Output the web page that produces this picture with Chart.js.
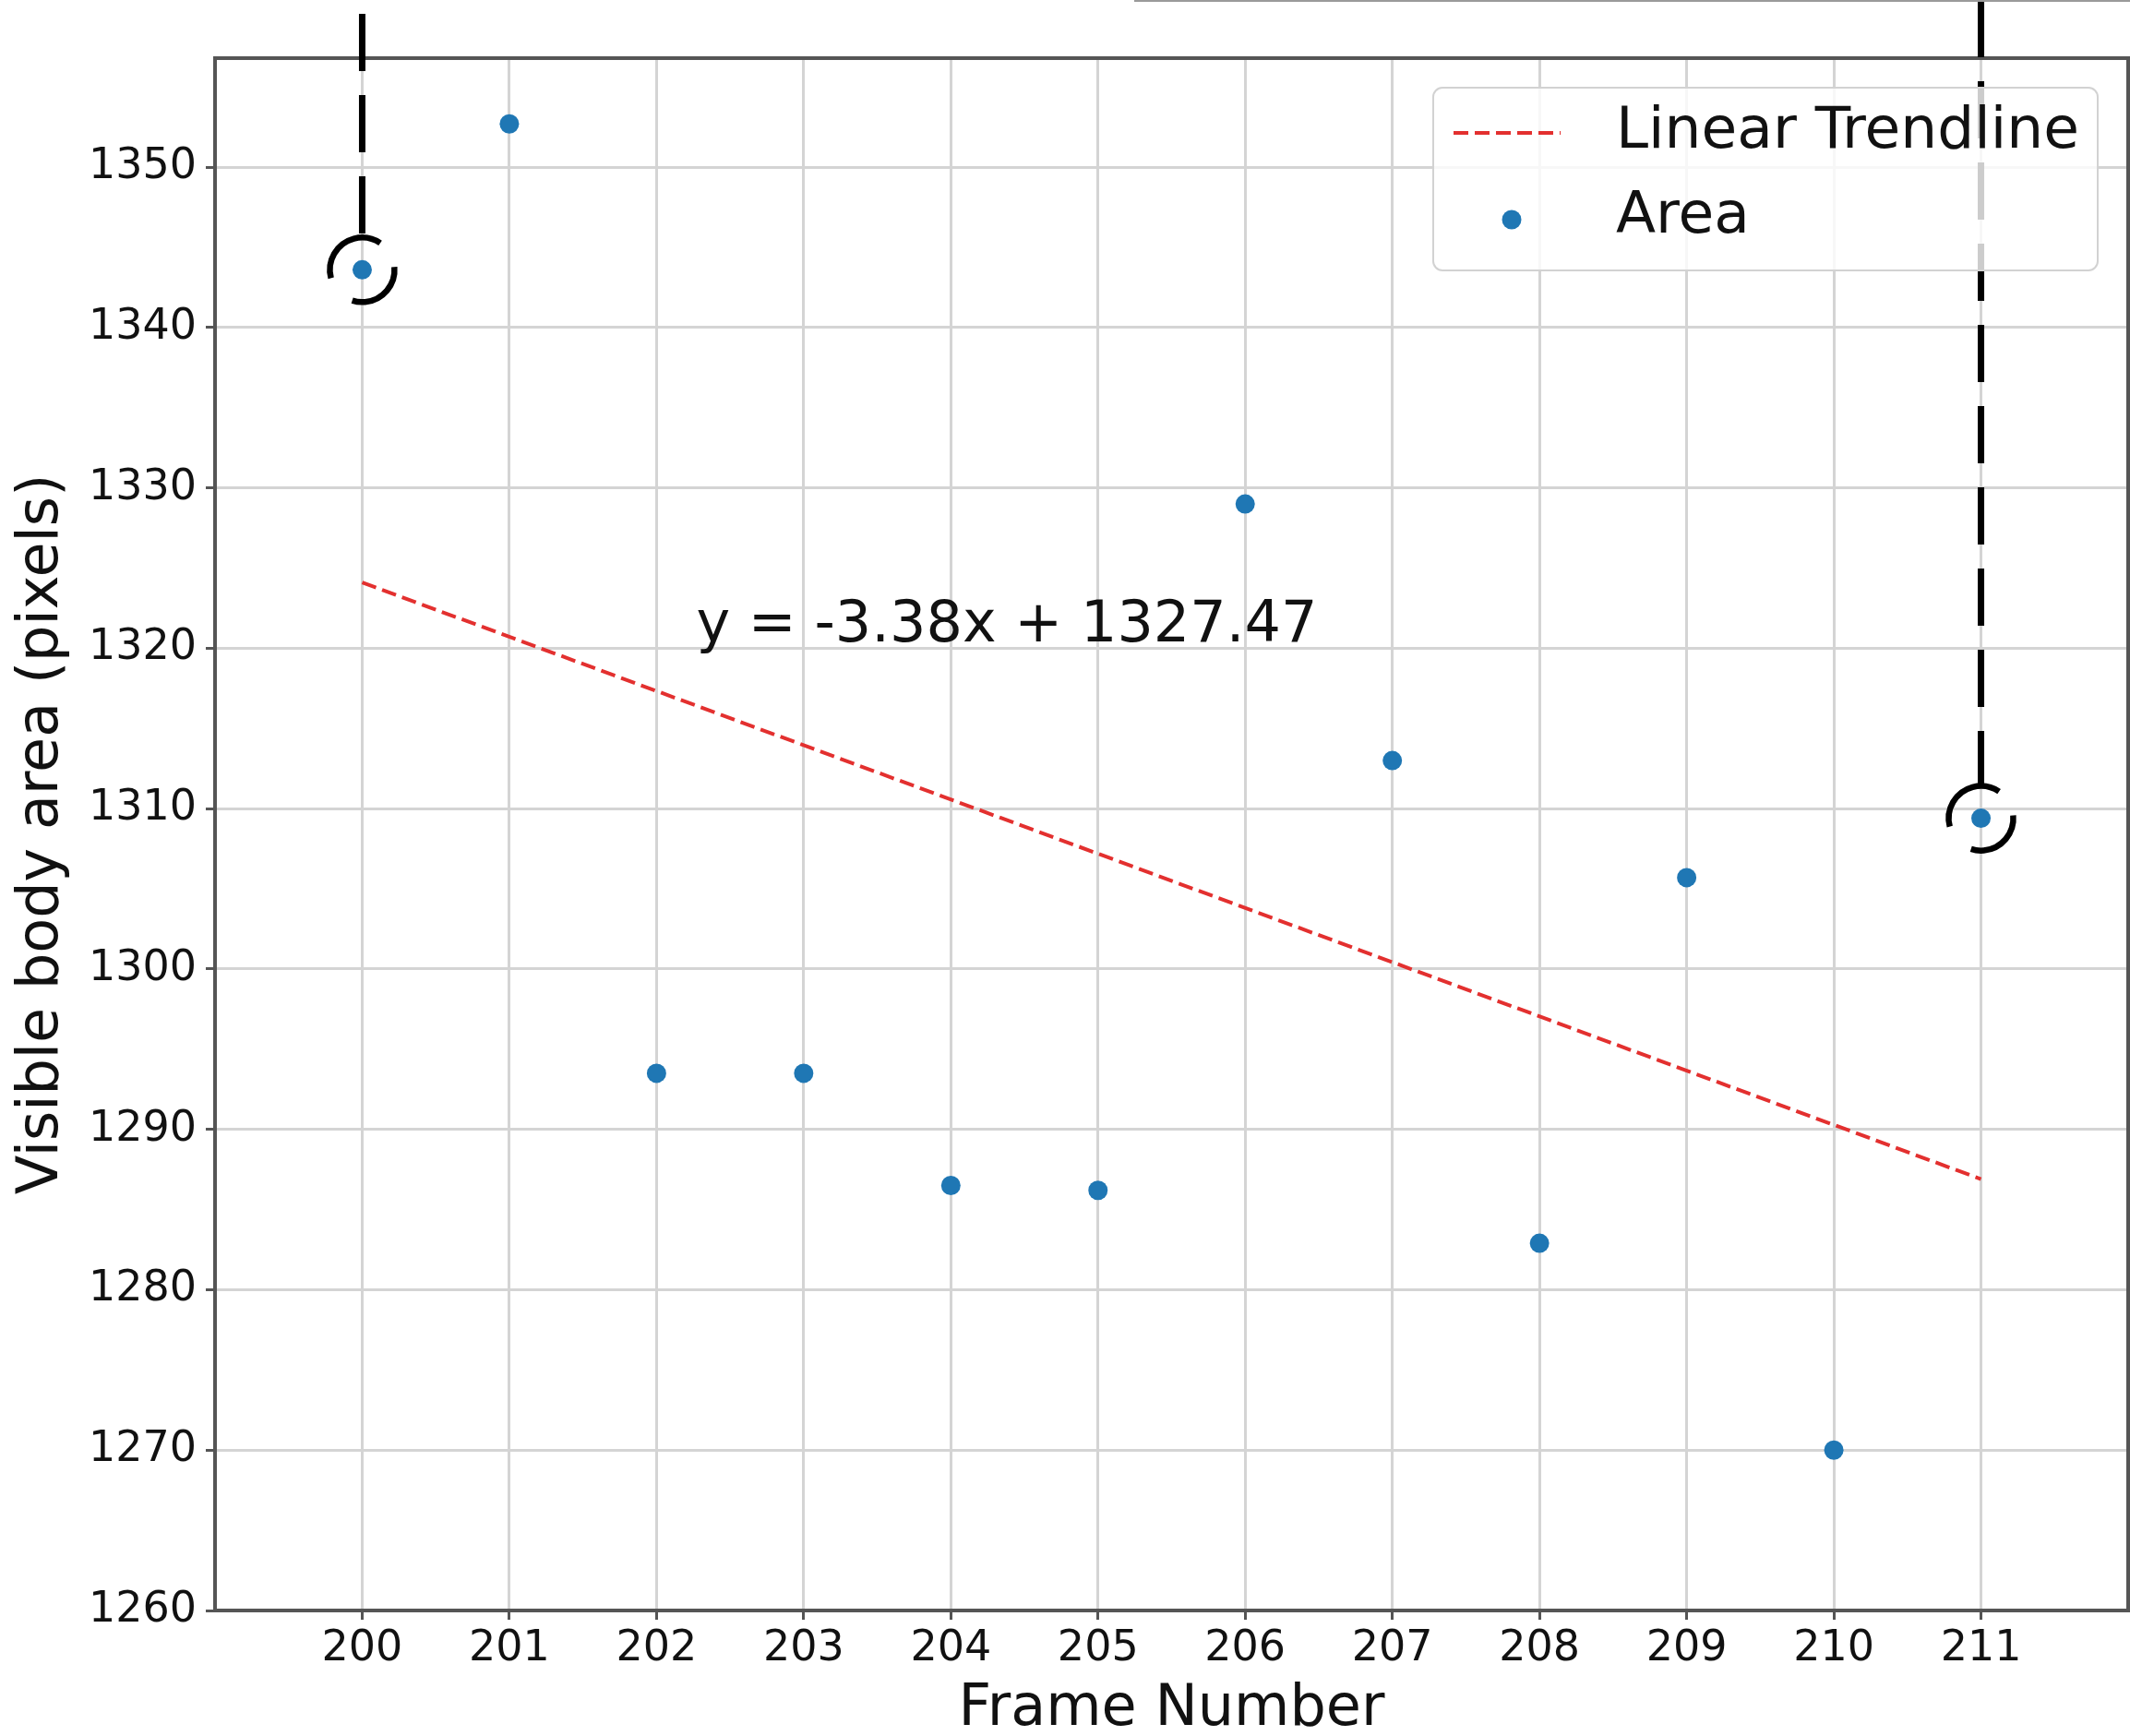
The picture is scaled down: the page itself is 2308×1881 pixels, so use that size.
<!DOCTYPE html>
<html><head><meta charset="utf-8">
<script src="https://cdn.jsdelivr.net/npm/chart.js@4.4.1/dist/chart.umd.min.js"></script>
<style>html,body{margin:0;padding:0;background:#fff;}canvas{display:block;}</style>
</head><body>
<canvas id="c" width="2308" height="1881"></canvas>
<script>
// ---- data ----
const frames = [200, 201, 202, 203, 204, 205, 206, 207, 208, 209, 210, 211];
const area = [1343.6, 1352.7, 1293.5, 1293.5, 1286.5, 1286.2, 1329.0, 1313.0, 1282.9, 1305.7, 1270.0, 1309.4];
const trendFrames = [200, 211];
const trendValues = [1324.1, 1286.9];
const xTickValues = [200, 201, 202, 203, 204, 205, 206, 207, 208, 209, 210, 211];
const yTickValues = [1260, 1270, 1280, 1290, 1300, 1310, 1320, 1330, 1340, 1350];
const xRange = [199, 212];
const yRange = [1260, 1356.8];
const highlightedFrames = [200, 211];
const seriesNames = ['Linear Trendline', 'Area'];
const xTitle = 'Frame Number';
const yTitle = 'Visible body area (pixels)';
const equationLabel = 'y = -3.38x + 1327.47';
const equationAnchor = [202.27, 1320.4];

// ---- style ----
const FONT = 'DejaVu Sans';
const BLUE = '#1f77b4';
const RED = '#e3302f';
const SPINE = '#555555';
const GRID = '#d4d4d4';
const TEXT = '#111111';
const highlightLineTops = [15, 0];

const areaPoints = frames.map((f, i) => ({x: f, y: area[i]}));
const trendPoints = trendFrames.map((f, i) => ({x: f, y: trendValues[i]}));

const overlay = {
  id: 'overlay',
  afterDatasetsDraw(chart) {
    const {ctx, chartArea: ca, scales: {x, y}} = chart;
    ctx.save();
    ctx.strokeStyle = SPINE; ctx.lineWidth = 4;
    ctx.beginPath();
    ctx.moveTo(ca.left - 2, ca.top); ctx.lineTo(ca.right, ca.top); ctx.lineTo(ca.right, ca.bottom + 2);
    ctx.stroke();
    ctx.fillStyle = TEXT;
    ctx.font = '62px "' + FONT + '"';
    ctx.textAlign = 'left'; ctx.textBaseline = 'alphabetic';
    ctx.fillText(equationLabel, x.getPixelForValue(equationAnchor[0]), y.getPixelForValue(equationAnchor[1]));
    const r = 35;
    highlightedFrames.forEach((f, k) => {
      const i = frames.indexOf(f);
      const cx = x.getPixelForValue(f), cy = y.getPixelForValue(area[i]);
      ctx.strokeStyle = '#000'; ctx.lineWidth = 7; ctx.lineCap = 'butt';
      ctx.setLineDash([62, 26]);
      ctx.beginPath(); ctx.moveTo(cx, highlightLineTops[k]); ctx.lineTo(cx, cy - r); ctx.stroke();
      ctx.setLineDash([]);
      ctx.lineWidth = 6.5;
      const d = Math.PI / 180;
      ctx.beginPath(); ctx.arc(cx, cy, r, 165 * d, 304 * d); ctx.stroke();
      ctx.beginPath(); ctx.arc(cx, cy, r, -5 * d, 108 * d); ctx.stroke();
    });
    ctx.restore();
  },
  afterDraw(chart) {
    const {ctx, chartArea: ca} = chart;
    ctx.save();
    ctx.fillStyle = '#9a9a9a';
    ctx.fillRect(1229, 0, chart.width - 1229, 2);
    const bw = 720, bh = 198;
    const bx = ca.right - 33 - bw, by = ca.top + 32;
    ctx.beginPath();
    ctx.roundRect(bx, by, bw, bh, 10);
    ctx.fillStyle = 'rgba(255,255,255,0.8)';
    ctx.fill();
    ctx.strokeStyle = '#d2d2d2'; ctx.lineWidth = 2; ctx.stroke();
    const row1 = by + 49, row2 = by + 141;
    ctx.strokeStyle = RED; ctx.lineWidth = 4; ctx.setLineDash([16, 7]);
    ctx.beginPath(); ctx.moveTo(bx + 22, row1); ctx.lineTo(bx + 138, row1); ctx.stroke();
    ctx.setLineDash([]);
    ctx.fillStyle = BLUE;
    ctx.beginPath(); ctx.arc(bx + 85, row2 + 2, 10.5, 0, Math.PI * 2); ctx.fill();
    ctx.fillStyle = TEXT; ctx.font = '63px "' + FONT + '"';
    ctx.textAlign = 'left'; ctx.textBaseline = 'middle';
    ctx.fillText(seriesNames[0], bx + 198, row1);
    ctx.fillText(seriesNames[1], bx + 198, row2);
    ctx.restore();
  }
};

new Chart(document.getElementById('c'), {
  type: 'scatter',
  data: {
    datasets: [
      {label: seriesNames[0], data: trendPoints, showLine: true, borderColor: RED, borderWidth: 4,
       borderDash: [16, 7], pointRadius: 0, fill: false, order: 2},
      {label: seriesNames[1], data: areaPoints, backgroundColor: BLUE, borderWidth: 0,
       pointRadius: 10.5, pointHoverRadius: 10.5, order: 1}
    ]
  },
  options: {
    responsive: false, animation: false, devicePixelRatio: 1,
    layout: {autoPadding: false, padding: {top: 63, right: 2, left: 0, bottom: 0}},
    plugins: {legend: {display: false}, tooltip: {enabled: false}},
    scales: {
      x: {
        type: 'linear', min: xRange[0], max: xRange[1],
        afterBuildTicks: s => { s.ticks = xTickValues.map(v => ({value: v})); },
        afterFit: s => { s.height = 136; s.paddingLeft = 0; s.paddingRight = 0; },
        grid: {color: GRID, lineWidth: 3, tickColor: SPINE, tickWidth: 3, tickLength: 10},
        border: {display: true, color: SPINE, width: 4},
        ticks: {font: {family: FONT, size: 46}, color: TEXT, padding: 4, maxRotation: 0, autoSkip: false,
                callback: v => String(v)},
        title: {display: true, text: xTitle, color: TEXT, font: {family: FONT, size: 62, lineHeight: 1},
                padding: {top: 0, bottom: -3}}
      },
      y: {
        type: 'linear', min: yRange[0], max: yRange[1],
        afterBuildTicks: s => { s.ticks = yTickValues.map(v => ({value: v})); },
        afterFit: s => { s.width = 233; s.paddingTop = 0; s.paddingBottom = 0; },
        grid: {color: GRID, lineWidth: 3, tickColor: SPINE, tickWidth: 3, tickLength: 10},
        border: {display: true, color: SPINE, width: 4},
        ticks: {font: {family: FONT, size: 46}, color: TEXT, padding: 10, autoSkip: false,
                callback: v => String(v)},
        title: {display: true, text: yTitle, color: TEXT, font: {family: FONT, size: 62, lineHeight: 1.2},
                padding: {top: 9, bottom: 0}}
      }
    }
  },
  plugins: [overlay]
});
</script>
</body></html>
